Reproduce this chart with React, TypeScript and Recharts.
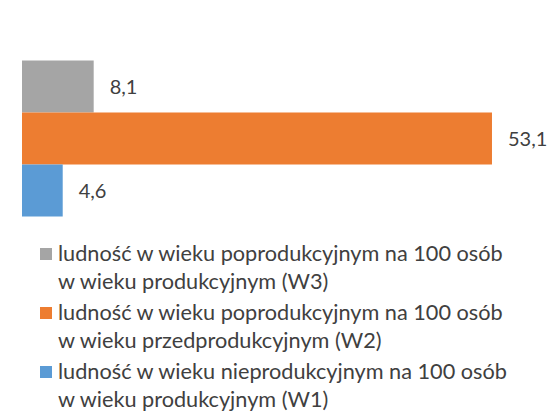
import React from 'react';
import { BarChart, Bar, XAxis, YAxis, Legend, LabelList } from 'recharts';

const categories = ['Wskaźniki obciążenia demograficznego'];
const seriesNames = [
  'ludność w wieku poprodukcyjnym na 100 osób w wieku produkcyjnym (W3)',
  'ludność w wieku poprodukcyjnym na 100 osób w wieku przedprodukcyjnym (W2)',
  'ludność w wieku nieprodukcyjnym na 100 osób w wieku produkcyjnym (W1)',
];
const seriesKeys = ['W3', 'W2', 'W1'];
const seriesValues = [8.1, 53.1, 4.6];
const seriesColors = ['#a5a5a5', '#ed7d31', '#5b9bd5'];

const data = categories.map((name) => {
  const row: Record<string, string | number> = { name };
  seriesKeys.forEach((k, i) => {
    row[k] = seriesValues[i];
  });
  return row;
});

const FONT = 'Lato, "Open Sans", sans-serif';
const TEXT = '#404040';

const fmt = (v: any) => String(v).replace('.', ',');

const LegendContent = (props: any) => {
  const payload = [...(props.payload || [])].sort(
    (a: any, b: any) => seriesKeys.indexOf(a.dataKey) - seriesKeys.indexOf(b.dataKey)
  );
  return (
    <div style={{ fontFamily: FONT, fontSize: 21.7, color: TEXT }}>
      {payload.map((entry: any, i: number) => {
        const lines = String(entry.value).split(/(?<=osób) /);
        return (
          <div key={i} style={{ position: 'relative', paddingLeft: 18, marginBottom: 4 }}>
            <span
              style={{
                position: 'absolute',
                left: 0,
                top: 8,
                width: 12,
                height: 12,
                background: entry.color,
              }}
            />
            {lines.map((l: string, j: number) => (
              <div key={j} style={{ lineHeight: '27.5px', whiteSpace: 'nowrap' }}>
                {l}
              </div>
            ))}
          </div>
        );
      })}
    </div>
  );
};

export default function App() {
  return (
    <div style={{ position: 'absolute', left: 0, top: 0, width: 550, height: 420, background: '#fff' }}>
      <BarChart
        width={550}
        height={420}
        data={data}
        layout="vertical"
        margin={{ top: 13, right: 41.2, bottom: 155, left: 22 }}
        barGap={0}
        barCategoryGap={47.5}
      >
        <XAxis type="number" domain={[0, 55]} hide />
        <YAxis
          type="category"
          dataKey="name"
          width={0}
          tick={false}
          tickLine={false}
          axisLine={{ stroke: '#d9d9d9' }}
        />
        <Legend
          layout="vertical"
          align="center"
          verticalAlign="middle"
          content={<LegendContent />}
          wrapperStyle={{ top: 240, left: 40, width: 510 }}
        />
        {seriesKeys.map((k, i) => (
          <Bar key={k} dataKey={k} name={seriesNames[i]} fill={seriesColors[i]} isAnimationActive={false}>
            <LabelList
              dataKey={k}
              position="right"
              offset={16}
              formatter={fmt}
              style={{ fontFamily: FONT, fontSize: 20, fill: TEXT }}
            />
          </Bar>
        ))}
      </BarChart>
    </div>
  );
}
